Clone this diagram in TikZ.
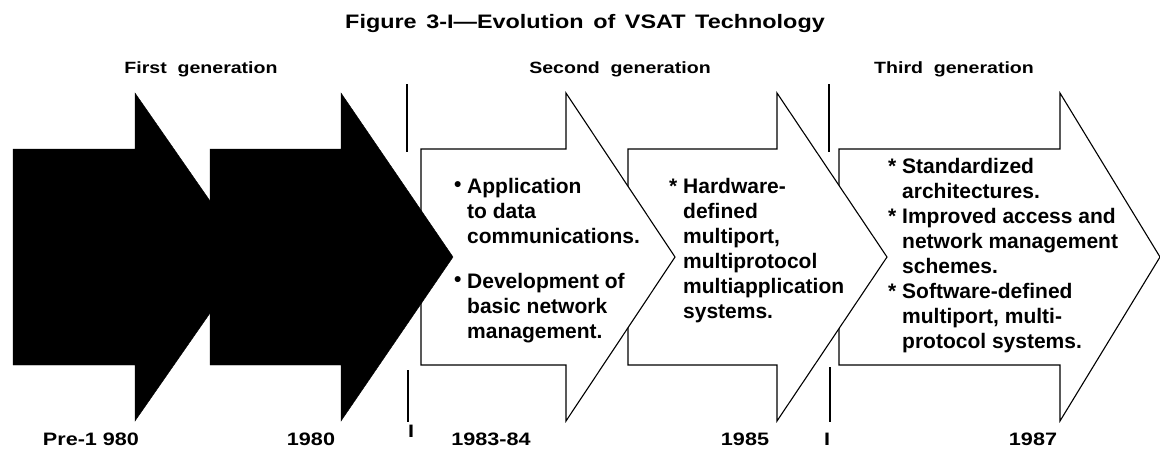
\documentclass[tikz,border=0pt]{standalone}
\usepackage{fontspec}
\setmainfont{Liberation Sans}
% one generation arrow: style, tail x, notch x, tip x
\newcommand{\genarrow}[4]{%
  \draw[#1] (#2,149) -- (#3,149) -- (#3,93) -- (#4,257) -- (#3,421) -- (#3,365) -- (#2,365) -- cycle;}
\begin{document}
\begin{tikzpicture}[x=1pt, y=-1pt,
    darkarrow/.style={fill=black},
    openarrow/.style={draw=black, fill=white, line width=1.1pt},
    figtitle/.style={font={\fontsize{19.5}{23}\selectfont\bfseries\spaceskip=8pt\relax}, xscale=1.2, anchor=base},
    genlabel/.style={font={\fontsize{16.3}{19}\selectfont\bfseries\spaceskip=9pt\relax}, xscale=1.2, anchor=base},
    yearlabel/.style={font={\fontsize{18}{21}\selectfont\bfseries}, xscale=1.2, anchor=base},
    itemtext/.style={font={\fontsize{21}{25}\selectfont\bfseries}, align=left, anchor=north west, inner sep=0pt},
    divider/.style={line width=1.6pt}
  ]
  \useasboundingbox (0,0) rectangle (1160,451);
  % arrows, right to left so the left ones lie on top
  \genarrow{openarrow}{839}{1060}{1160}
  \genarrow{openarrow}{628}{777}{887}
  \genarrow{openarrow}{421}{566}{675}
  \genarrow{darkarrow}{13}{135}{249}
  \genarrow{darkarrow}{210}{341}{453}
  % dividers between generations
  \draw[divider] (407,84) -- (407,152);
  \draw[divider] (408,370) -- (408,422);
  \draw[divider] (829,84) -- (829,152);
  \draw[divider] (830,367) -- (830,422);
  % texts
  \node[figtitle] (title) at (585,28) {Figure 3-I—Evolution of VSAT Technology};
  \node[genlabel] (gen1) at (201,73) {First generation};
  \node[genlabel] (gen2) at (620,73) {Second generation};
  \node[genlabel] (gen3) at (954,73) {Third generation};
  \node[itemtext] (items2a) at (467,178) {\llap{\raisebox{2pt}{•}\ }Application\\to data\\communications.\\[20pt]\llap{\raisebox{2pt}{•}\ }Development of\\basic network\\management.};
  \node[itemtext] (items2b) at (683,178) {\llap{*\ }Hardware-\\defined\\multiport,\\multiprotocol\\multiapplication\\systems.};
  \node[itemtext] (items3) at (902,158) {\llap{*\ }Standardized\\architectures.\\\llap{*\ }Improved access and\\network management\\schemes.\\\llap{*\ }Software-defined\\multiport, multi-\\protocol systems.};
  \node[yearlabel] (year1) at (91,445) {Pre-1 980};
  \node[yearlabel] (year2) at (311,445) {1980};
  \node[yearlabel] (tick1) at (411,437) {I};
  \node[yearlabel] (year3) at (491,445) {1983-84};
  \node[yearlabel] (year4) at (745,445) {1985};
  \node[yearlabel] (tick2) at (827,445) {I};
  \node[yearlabel] (year5) at (1033,445) {1987};
\end{tikzpicture}
\end{document}
